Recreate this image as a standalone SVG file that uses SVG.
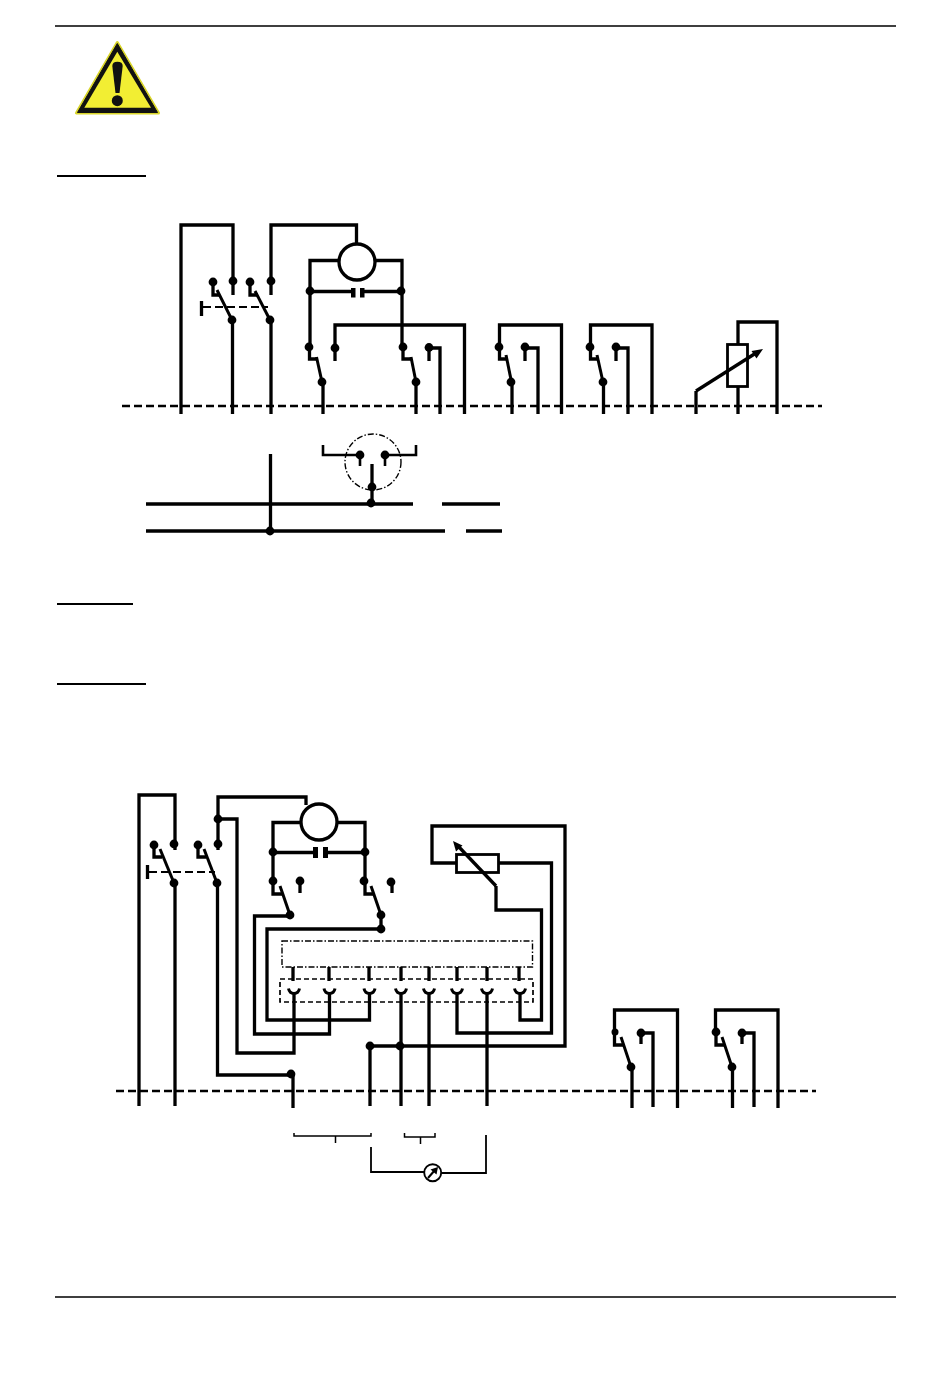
<svg xmlns="http://www.w3.org/2000/svg" width="950" height="1379" viewBox="0 0 950 1379">
<style>
.w{fill:none;stroke:#000;stroke-width:3.300;stroke-linejoin:miter}
.a{fill:none;stroke:#000;stroke-width:3}
.bus{fill:none;stroke:#000;stroke-width:2.600;stroke-dasharray:8 4}
.thin{fill:none;stroke:#000;stroke-width:1.500}
.dd{fill:none;stroke:#000;stroke-width:1.400;stroke-dasharray:6 2 1.500 2}
.ds{fill:none;stroke:#000;stroke-width:1.700;stroke-dasharray:5 3}
.f{fill:none;stroke:#000;stroke-width:3}
.d{fill:#000}
</style>
<defs>
<circle id="dot" r="4.400" class="d"/>
<path id="fork" d="M-5.500 988.500Q-4.500 993.500 0 993.500Q4.500 993.500 5.500 988.500" class="f"/>
</defs>
<rect width="950" height="1379" fill="#fff"/>
<g id="page-lines">
<path class="thin" d="M55 26H896M55 1297H896"/>
<path class="w" style="stroke-width:2.200" d="M57 176H146M57 604H133M57 684H146"/>
</g>
<g id="warning-sign">
<path d="M117.300 42.500L76.500 113H158.500Z" fill="#e8e42e" stroke="#d9d52a" stroke-width="3" stroke-linejoin="round"/>
<path d="M117.300 43.500L77.500 112.500H157.500Z" fill="#111" stroke="#111" stroke-width="1" stroke-linejoin="round"/>
<path d="M117.300 51.700L84.300 107.700H151Z" fill="#f2ee33"/>
<path d="M112.300 66Q112.300 61.700 117.400 61.700Q122.700 61.700 122.700 66L119.500 93H115.500Z" fill="#111"/>
<circle cx="117.300" cy="100.700" r="5.500" fill="#111"/>
</g>
<g id="connectors">
<path class="bus" d="M122 406H822"/>
<path class="bus" style="stroke-width:2.200" d="M203 307H268"/>
<path class="w" d="M201.500 301V316"/>
<path class="w" d="M181 414V225H233V295"/>
<path class="w" d="M271 295V225H356.500V243"/>
<path class="w" d="M213 282V295H220"/>
<path class="a" d="M217 290L232 320"/>
<path class="w" d="M232.500 320V414"/>
<path class="w" d="M250 282V295H258"/>
<path class="a" d="M255 291L270 320"/>
<path class="w" d="M271 320V414"/>
<path class="w" d="M339 260.500H310V347"/>
<path class="w" d="M375 260.500H402V347"/>
<path class="w" d="M310 291.500H351M364 291.500H402"/>
<path class="w" d="M309.500 347V359H318"/>
<path class="a" d="M316.500 357L322 382"/>
<path class="w" d="M323 382V414"/>
<path class="w" d="M335 348V361M335 348V325H464.500V414"/>
<path class="w" d="M403 347V359H412"/>
<path class="a" d="M411 357L416 382"/>
<path class="w" d="M416 382V414"/>
<path class="w" d="M429 348V361M429 348H440V414"/>
<path class="w" d="M499.500 347V325H561.500V414"/>
<path class="w" d="M499.500 347V359H507"/>
<path class="a" d="M506 355L511.500 382"/>
<path class="w" d="M512 382V414"/>
<path class="w" d="M525 347V361M525 348H538V414"/>
<path class="w" d="M590.500 347V325H652V414"/>
<path class="w" d="M590.500 347V359H598"/>
<path class="a" d="M597 355L603 382"/>
<path class="w" d="M603.500 382V414"/>
<path class="w" d="M616 347V361M616 348H628V414"/>
<path class="w" d="M738 344V322H777V414M738 387V414"/>
<path class="w" d="M696 414V391"/>
<path class="w" d="M146 504H413M442 504H500"/>
<path class="w" d="M146 531H445M466 531H502"/>
<path class="w" d="M270.500 454V531"/>
<path class="w" d="M372 464V503"/>
<path class="w" style="stroke-width:2.600" d="M323 445V455H359M360 455V466"/>
<path class="w" style="stroke-width:2.600" d="M385 455V466M385 455H416V445"/>
<path class="bus" d="M116 1091H816"/>
<path class="bus" style="stroke-width:2.200" d="M149 872H215"/>
<path class="w" d="M147.500 865V879"/>
<path class="w" d="M139 1106V795H175V850"/>
<path class="w" d="M154 845V857H162"/>
<path class="a" d="M160 849L174 883"/>
<path class="w" d="M175 883V1106"/>
<path class="w" d="M198 845V857H206"/>
<path class="a" d="M204 849L217 883"/>
<path class="w" d="M217.500 883V1075H291"/>
<path class="w" d="M293 1075V1108"/>
<path class="w" d="M218 850V797H306V805"/>
<path class="w" d="M218 819H237V1053H294V993"/>
<path class="w" d="M301 822.500H273V881"/>
<path class="w" d="M338 822.500H365V881"/>
<path class="w" d="M273 852.500H313M328 852.500H365"/>
<path class="w" d="M273 881V894H282"/>
<path class="a" d="M280 886L290 915"/>
<path class="w" d="M290 916H254.500V1034H329.500V993"/>
<path class="w" d="M300 881V893"/>
<path class="w" d="M365 881V894H373"/>
<path class="a" d="M371 886L381 915"/>
<path class="w" d="M381 915V929H267V1020H369.500V993"/>
<path class="w" d="M392 882V893"/>
<path class="w" d="M456 863H432V826H565V1046H370"/>
<path class="w" d="M499 863H551.500V1033H457V993"/>
<path class="w" d="M496 886V910H541.500V1020H520V993"/>
<path class="w" d="M293 967V981M329 967V981M369 967V981M401 967V981M429 967V981M457 967V981M487 967V981M519 967V981"/>
<path class="w" d="M401 993V1106M429 993V1106M487 993V1106M370 1046V1106"/>
<path class="w" d="M614.500 1032V1010H677.500V1108"/>
<path class="w" d="M614.500 1032V1045H623"/>
<path class="a" d="M621 1037L631 1067"/>
<path class="w" d="M632 1067V1108"/>
<path class="w" d="M641 1033V1044M641 1033H653V1107"/>
<path class="w" d="M715.500 1032V1010H778V1108"/>
<path class="w" d="M716 1032V1045H724"/>
<path class="a" d="M722 1037L732 1067"/>
<path class="w" d="M732.500 1067V1108"/>
<path class="w" d="M742 1033V1044M742 1033H754V1107"/>
<path class="thin" d="M294 1133V1136H371V1133M335.500 1136V1143"/>
<path class="thin" d="M404.500 1133V1137H435V1133M420.500 1137V1144"/>
<path class="thin" style="stroke-width:1.800" d="M371 1147V1172H424M442 1173H486V1135"/>
</g>
<g id="junctions">
<use href="#dot" x="213" y="282"/><use href="#dot" x="233" y="281"/><use href="#dot" x="250" y="282"/><use href="#dot" x="271" y="281"/>
<use href="#dot" x="232" y="320"/><use href="#dot" x="270" y="320"/>
<use href="#dot" x="310" y="291"/><use href="#dot" x="401" y="291"/>
<use href="#dot" x="309" y="347"/><use href="#dot" x="335" y="348"/><use href="#dot" x="403" y="347"/><use href="#dot" x="429" y="347.500"/>
<use href="#dot" x="322" y="382"/><use href="#dot" x="416" y="382"/>
<use href="#dot" x="499" y="347"/><use href="#dot" x="525" y="347"/><use href="#dot" x="511" y="382"/>
<use href="#dot" x="590" y="347"/><use href="#dot" x="616" y="347"/><use href="#dot" x="603" y="382"/>
<use href="#dot" x="270" y="531"/><use href="#dot" x="371" y="503"/><use href="#dot" x="372" y="487"/><use href="#dot" x="360" y="455"/><use href="#dot" x="385" y="455"/>
<use href="#dot" x="154" y="845"/><use href="#dot" x="174" y="844"/><use href="#dot" x="198" y="845"/><use href="#dot" x="218" y="844"/><use href="#dot" x="218" y="819"/>
<use href="#dot" x="174" y="883"/><use href="#dot" x="217" y="883"/>
<use href="#dot" x="273" y="852"/><use href="#dot" x="365" y="852"/><use href="#dot" x="273" y="881"/><use href="#dot" x="300" y="881"/><use href="#dot" x="364" y="881"/><use href="#dot" x="391" y="882"/>
<use href="#dot" x="290" y="915"/><use href="#dot" x="381" y="915"/><use href="#dot" x="381" y="929"/><use href="#dot" x="291" y="1074"/>
<use href="#dot" x="370" y="1046"/><use href="#dot" x="400" y="1046"/>
<circle class="d" cx="615" cy="1032" r="3.500"/><use href="#dot" x="641" y="1033"/><use href="#dot" x="631" y="1067"/>
<use href="#dot" x="716" y="1032"/><use href="#dot" x="742" y="1033"/><use href="#dot" x="732" y="1067"/>
</g>
<g id="motor-1"><circle cx="357" cy="262" r="18" fill="#fff" stroke="#000" stroke-width="3.300"/></g>
<g id="capacitor-1"><rect x="351" y="288" width="4.500" height="9.500"/><rect x="360" y="288" width="4.500" height="9.500"/></g>
<g id="rheostat-1">
<rect x="727.500" y="344.500" width="20" height="42" fill="#fff" stroke="#000" stroke-width="2.800"/>
<path d="M696 391L756 353" stroke="#000" stroke-width="3.300" fill="none"/>
<path d="M763 349L751.500 351L756.500 358.500Z" fill="#000"/>
</g>
<g id="contact-circle"><circle class="dd" cx="373" cy="462" r="28"/></g>
<g id="motor-2"><circle cx="319" cy="822" r="18" fill="#fff" stroke="#000" stroke-width="3.300"/></g>
<g id="capacitor-2"><rect x="313" y="847" width="5" height="11"/><rect x="323" y="847" width="5" height="11"/></g>
<g id="rheostat-2">
<rect x="456.500" y="854.500" width="42" height="18" fill="#fff" stroke="#000" stroke-width="2.800"/>
<path d="M496 886L458 846" stroke="#000" stroke-width="3.300" fill="none"/>
<path d="M453 841L462.500 845.500L456 851.500Z" fill="#000"/>
</g>
<g id="connector-upper"><rect class="dd" x="282" y="941" width="250.500" height="26"/></g>
<g id="connector-lower">
<rect class="ds" x="280" y="979" width="253" height="23"/>
<use href="#fork" x="294"/><use href="#fork" x="329.500"/><use href="#fork" x="369.500"/><use href="#fork" x="401"/><use href="#fork" x="429"/><use href="#fork" x="457"/><use href="#fork" x="487"/><use href="#fork" x="520"/>
</g>
<g id="meter">
<circle cx="432.700" cy="1172.700" r="8.500" fill="#fff" stroke="#000" stroke-width="1.900"/>
<path d="M428 1178L435 1170" stroke="#000" stroke-width="2"/>
<path d="M438 1167L430.500 1169.500L436.500 1174.500Z" fill="#000"/>
</g>
</svg>
